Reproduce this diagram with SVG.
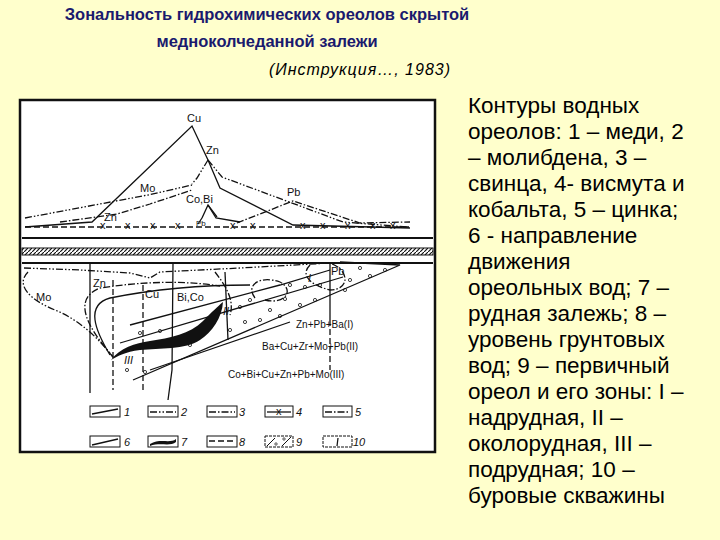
<svg xmlns="http://www.w3.org/2000/svg" width="720" height="540" viewBox="0 0 720 540">
<defs>
<style>
.t{font-family:"Liberation Sans",Arial,sans-serif}
.f{font-family:"Liberation Sans",Arial,sans-serif;font-size:11px;fill:#111}
.s{fill:none;stroke:#111;stroke-width:1.3}
.dd{fill:none;stroke:#111;stroke-width:1.3;stroke-dasharray:7 2 1.5 2 1.5 2}
.d{fill:none;stroke:#111;stroke-width:1.3;stroke-dasharray:7 2 1.5 2}
.da{fill:none;stroke:#111;stroke-width:1.3;stroke-dasharray:6 3}
.lb{fill:none;stroke:#111;stroke-width:1}
</style>
<pattern id="h" width="4" height="4" patternUnits="userSpaceOnUse"><rect width="4" height="4" fill="#fff"/><path d="M0 4L4 0" stroke="#111" stroke-width="1.2"/></pattern>
</defs>
<rect width="720" height="540" fill="#FFFFCC"/>
<g id="title" class="t" font-weight="bold" fill="#1a1a6e" font-size="16.5" text-anchor="middle">
<text x="267" y="20">Зональность гидрохимических ореолов скрытой</text>
<text x="267" y="47">медноколчеданной залежи</text>
</g>
<text class="t" x="360" y="75" font-size="16" font-style="italic" text-anchor="middle" letter-spacing="1">(Инструкция…, 1983)</text>
<g id="caption" class="t" font-size="22.5" fill="#000">
<text x="468" y="113">Контуры водных</text>
<text x="468" y="139">ореолов: 1 – меди, 2</text>
<text x="468" y="165">– молибдена, 3 –</text>
<text x="468" y="191">свинца, 4- висмута и</text>
<text x="468" y="217">кобальта, 5 – цинка;</text>
<text x="468" y="243">6 - направление</text>
<text x="468" y="269">движения</text>
<text x="468" y="295">ореольных вод; 7 –</text>
<text x="468" y="321">рудная залежь; 8 –</text>
<text x="468" y="347">уровень грунтовых</text>
<text x="468" y="373">вод; 9 – первичный</text>
<text x="468" y="399">ореол и его зоны: I –</text>
<text x="468" y="425">надрудная, II –</text>
<text x="468" y="451">околорудная, III –</text>
<text x="468" y="477">подрудная; 10 –</text>
<text x="468" y="503">буровые скважины</text>
</g>
<g id="figure">
<rect x="20" y="100" width="415" height="352" fill="#fff" stroke="#111" stroke-width="2.5"/>
<g id="connectors">
<polyline class="s" points="25,227 92,222 192,126 208,160 220,188 293,225 410,228"/>
<polyline class="dd" points="208,160 222,177 343,222 407,227"/>
<polyline class="dd" points="208,160 197,178 192,184"/>
<polyline class="dd" points="25,218 148,195 192,185"/>
<polyline class="d" points="60,222 117,214 150,204 192,190"/>
<polyline class="d" points="237,223 293,201 360,223 410,222"/>
<polyline class="s" points="202,218 208,205 217,217"/>
<path class="s" d="M208 205L216 218 240 222M202 218L198 224" stroke-width="1"/>
<line x1="25" y1="227" x2="410" y2="227" class="da" stroke-dasharray="8 3"/>
<g class="f" font-size="7">
<text x="100" y="229">x</text><text x="125" y="229">x</text><text x="150" y="229">x</text><text x="175" y="229">x</text><text x="230" y="229">x</text><text x="250" y="229">x</text><text x="300" y="229">x</text><text x="320" y="229">x</text><text x="345" y="229">x</text><text x="370" y="229">x</text><text x="390" y="229">x</text>
</g>
<line x1="22" y1="238" x2="433" y2="238" stroke="#111" stroke-width="2"/>
<rect x="22" y="248" width="411" height="7" fill="url(#h)" stroke="#111" stroke-width="1"/>
<line x1="22" y1="263" x2="433" y2="263" stroke="#111" stroke-width="2.2"/>
<path class="dd" d="M24 268L80 270 130 273 150 278 160 272 240 268 330 263"/>
<line class="s" x1="90" y1="263" x2="90" y2="393"/>
<path class="s" d="M173 263L172 370 168 400"/>
<line class="s" x1="330" y1="263" x2="330" y2="320"/>
<line class="da" x1="113" y1="280" x2="113" y2="390"/>
<line class="da" x1="143" y1="285" x2="143" y2="390"/>
<line class="s" x1="225" y1="272" x2="228" y2="340"/>
<line class="da" x1="330" y1="320" x2="330" y2="370"/>
<path class="dd" d="M28 272C15 285 30 300 55 310C80 320 100 340 113 357"/>
<path class="d" d="M113 357C90 330 70 300 100 288C140 282 180 280 220 286"/>
<path class="s" d="M110 355C95 330 85 305 110 298C150 290 200 285 250 285"/>
<path class="s" d="M133 380L400 265 340 262"/>
<path class="s" d="M120 343L343 277"/>
<path class="s" d="M130 325L280 285 330 270"/>
<path class="s" d="M150 370L290 322"/>
<path class="d" d="M310 265C300 275 310 285 330 290C350 290 350 270 330 263"/>
<path class="d" d="M255 298C245 285 260 275 280 282C295 290 285 305 265 300"/>
<path class="d" d="M215 272C225 285 235 300 230 315"/>
<path d="M111 360C120 348 135 343 150 341C170 338 190 334 203 321C212 312 218 306 223 302C222 318 212 332 200 340C185 350 160 348 140 350C125 352 118 356 111 360Z" fill="#111"/>
<g fill="none" stroke="#111" stroke-width="0.8">
<circle cx="140" cy="333" r="1.6"/><circle cx="160" cy="331" r="1.6"/><circle cx="127" cy="370" r="1.6"/><circle cx="145" cy="372" r="1.6"/><circle cx="245" cy="322" r="1.6"/><circle cx="260" cy="320" r="1.6"/><circle cx="280" cy="316" r="1.6"/><circle cx="300" cy="305" r="1.6"/><circle cx="285" cy="299" r="1.6"/><circle cx="250" cy="300" r="1.6"/><circle cx="290" cy="285" r="1.6"/><circle cx="305" cy="287" r="1.6"/><circle cx="320" cy="285" r="1.6"/><circle cx="350" cy="280" r="1.6"/><circle cx="370" cy="276" r="1.6"/><circle cx="385" cy="270" r="1.6"/><circle cx="360" cy="268" r="1.6"/><circle cx="240" cy="307" r="1.6"/><circle cx="205" cy="326" r="1.6"/><circle cx="190" cy="345" r="1.6"/><circle cx="230" cy="330" r="1.6"/><circle cx="270" cy="310" r="1.6"/><circle cx="345" cy="290" r="1.6"/><circle cx="315" cy="300" r="1.6"/>
</g>
</g>
<g id="labels" class="f">
<text x="187" y="122">Cu</text>
<text x="206" y="154">Zn</text>
<text x="140" y="192">Mo</text>
<text x="186" y="203">Co,Bi</text>
<text x="287" y="196">Pb</text>
<text x="104" y="221">Zn</text>
<text x="196" y="226" font-size="8">Pb</text>
<text x="93" y="287">Zn</text>
<text x="145" y="298">Cu</text>
<text x="36" y="301">Mo</text>
<text x="177" y="301">Bi,Co</text>
<text x="331" y="275">Pb</text>
<text x="308" y="282" font-style="italic">I</text>
<text x="223" y="315" font-style="italic">II</text>
<text x="124" y="364" font-style="italic">III</text>
<text x="296" y="328" font-size="10">Zn+Pb+Ba(I)</text>
<text x="262" y="350" font-size="10">Ba+Cu+Zr+Mo+Pb(II)</text>
<text x="228" y="378" font-size="10">Co+Bi+Cu+Zn+Pb+Mo(III)</text>
</g>
<g id="legend">
<rect class="lb" x="90" y="406" width="30" height="11"/><path class="s" d="M92 414L118 409"/><text class="f" x="124" y="416" font-style="italic">1</text>
<rect class="lb" x="148" y="406" width="30" height="11"/><line class="dd" x1="150" y1="412" x2="176" y2="412"/><text class="f" x="181" y="416" font-style="italic">2</text>
<rect class="lb" x="207" y="406" width="30" height="11"/><line class="d" x1="209" y1="412" x2="235" y2="412"/><text class="f" x="239" y="416" font-style="italic">3</text>
<rect class="lb" x="265" y="406" width="28" height="11"/><line class="s" x1="267" y1="412" x2="291" y2="412"/><text class="f" x="276" y="415" font-size="8">x</text><text class="f" x="296" y="416" font-style="italic">4</text>
<rect class="lb" x="323" y="406" width="29" height="11"/><line class="d" x1="325" y1="412" x2="350" y2="412"/><text class="f" x="355" y="416" font-style="italic">5</text>
<rect class="lb" x="90" y="436" width="30" height="11"/><path class="s" d="M92 445L118 439"/><text class="f" x="124" y="446" font-style="italic">6</text>
<rect class="lb" x="148" y="436" width="30" height="11"/><path d="M150 444C160 438 170 444 176 439L176 442C170 447 160 442 150 446Z" fill="#111"/><text class="f" x="181" y="446" font-style="italic">7</text>
<rect class="lb" x="207" y="436" width="30" height="11"/><line class="da" x1="209" y1="441" x2="235" y2="441"/><text class="f" x="239" y="446" font-style="italic">8</text>
<rect class="lb" x="265" y="436" width="28" height="11" stroke-dasharray="3 1"/><path class="lb" d="M267 446L275 438M282 446L291 437"/><circle cx="276" cy="444" r="1.2" fill="none" stroke="#111" stroke-width="0.7"/><circle cx="284" cy="439" r="1.2" fill="none" stroke="#111" stroke-width="0.7"/><text class="f" x="296" y="446" font-style="italic">9</text>
<rect class="lb" x="323" y="436" width="29" height="11" stroke-dasharray="3 1"/><line class="s" x1="338" y1="438" x2="337" y2="446"/><text class="f" x="353" y="446" font-style="italic">10</text>
</g>
</g>
</svg>
